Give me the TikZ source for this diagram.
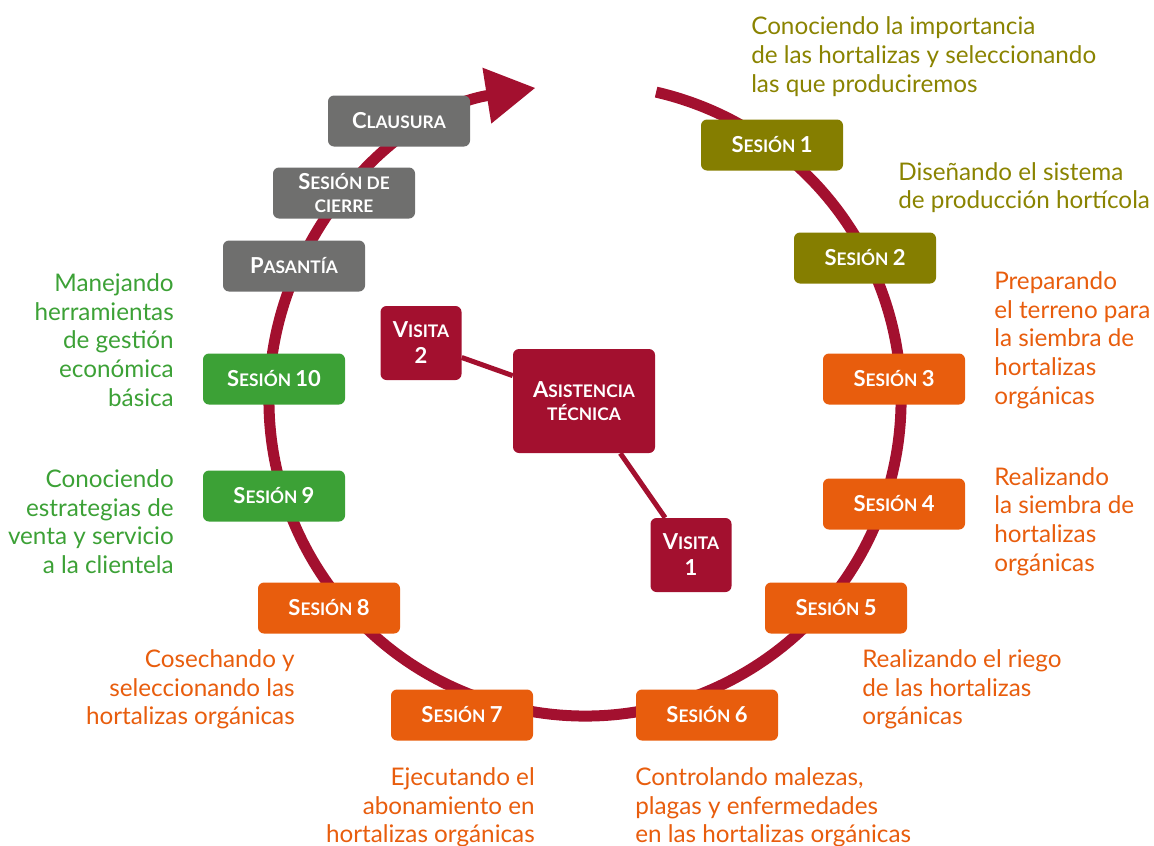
\documentclass[tikz,border=0pt]{standalone}
\usepackage{fontspec}
\setmainfont{Lato}
\usetikzlibrary{arrows.meta}
\definecolor{crim}{HTML}{A3102F}
\definecolor{colOlive}{HTML}{857E00}
\definecolor{colOliveTxt}{HTML}{8A8300}
\definecolor{orng}{HTML}{E85D0D}
\definecolor{grn}{HTML}{3CA136}
\definecolor{gry}{HTML}{6F6F6E}
\newcommand\capl[1]{{\fontsize{16.5}{17}\selectfont #1}}
\newcommand\smcl[1]{{\fontsize{13}{17}\selectfont #1}}
\begin{document}
\begin{tikzpicture}[x=0.75pt,y=-0.75pt,
  box/.style={rounded corners=4.5pt, minimum width=106.5pt, minimum height=38.25pt,
    inner sep=0pt, text=white, align=center, font=\fontsize{13}{17}\selectfont\bfseries},
  vbox/.style={box, fill=crim, minimum width=60.75pt, minimum height=55.5pt,
    font=\fontsize{13}{19.5}\selectfont\bfseries},
  desc/.style={inner sep=0pt, font=\fontsize{18.2}{21.5}\selectfont},
  descl/.style={desc, anchor=west, align=left},
  descr/.style={desc, anchor=east, align=right},
  link/.style={draw=crim, line width=3.75pt}]
\useasboundingbox (0,0) rectangle (1154,846);
% cycle arrow
\draw[crim, line width=8.25pt, -{Triangle[length=37pt,width=40pt]}]
  (656.1,92.1) arc[start angle=77, end angle=-261, radius=237pt];
% session boxes
\node[box, fill=gry] (clau) at (399,121) {\capl{C}\smcl{LAUSURA}};
\node[box, fill=gry] (cier) at (344,193) {\capl{S}\smcl{ESIÓN DE}\\\smcl{CIERRE}};
\node[box, fill=gry] (pas) at (294,266) {\capl{P}\smcl{ASANTÍA}};
\node[box, fill=grn] (s10) at (274,379) {\capl{S}\smcl{ESIÓN} \capl{10}};
\node[box, fill=grn] (s9) at (274,496) {\capl{S}\smcl{ESIÓN} \capl{9}};
\node[box, fill=orng] (s8) at (329,608) {\capl{S}\smcl{ESIÓN} \capl{8}};
\node[box, fill=orng] (s7) at (462,715) {\capl{S}\smcl{ESIÓN} \capl{7}};
\node[box, fill=orng] (s6) at (707,715) {\capl{S}\smcl{ESIÓN} \capl{6}};
\node[box, fill=orng] (s5) at (836,608) {\capl{S}\smcl{ESIÓN} \capl{5}};
\node[box, fill=orng] (s4) at (894,504) {\capl{S}\smcl{ESIÓN} \capl{4}};
\node[box, fill=orng] (s3) at (894,379) {\capl{S}\smcl{ESIÓN} \capl{3}};
\node[box, fill=colOlive] (s2) at (865,258) {\capl{S}\smcl{ESIÓN} \capl{2}};
\node[box, fill=colOlive] (s1) at (772,145) {\capl{S}\smcl{ESIÓN} \capl{1}};
% technical assistance
\node[box, fill=crim, minimum height=78pt] (at) at (584,401) {\capl{A}\smcl{SISTENCIA}\\\smcl{TÉCNICA}};
\node[vbox] (v2) at (421,343) {\capl{V}\smcl{ISITA}\\\capl{2}};
\node[vbox] (v1) at (691,555) {\capl{V}\smcl{ISITA}\\\capl{1}};
\draw[link] (v2) -- (at);
\draw[link] (at) -- (v1);
% descriptions
\node[descl, text=colOliveTxt] (t1) at (751,56.5) {Conociendo la importancia\\de las hortalizas y seleccionando\\las que produciremos};
\node[descl, text=colOliveTxt] (t2) at (898,187.5) {Diseñando el sistema\\de producción hortícola};
\node[descl, text=orng] (t3) at (994,340) {Preparando\\el terreno para\\la siembra de\\hortalizas\\orgánicas};
\node[descl, text=orng] (t4) at (994,521.5) {Realizando\\la siembra de\\hortalizas\\orgánicas};
\node[descl, text=orng] (t5) at (862,689.5) {Realizando el riego\\de las hortalizas\\orgánicas};
\node[descl, text=orng] (t6) at (635,807.5) {Controlando malezas,\\plagas y enfermedades\\en las hortalizas orgánicas};
\node[descr, text=orng] (t7) at (535,807.5) {Ejecutando el\\abonamiento en\\hortalizas orgánicas};
\node[descr, text=orng] (t8) at (295,689.5) {Cosechando y\\seleccionando las\\hortalizas orgánicas};
\node[descr, text=grn] (t9) at (174,521.5) {Conociendo\\estrategias de\\venta y servicio\\a la clientela};
\node[descr, text=grn] (t10) at (174,340) {Manejando\\herramientas\\de gestión\\económica\\básica};
\end{tikzpicture}
\end{document}
